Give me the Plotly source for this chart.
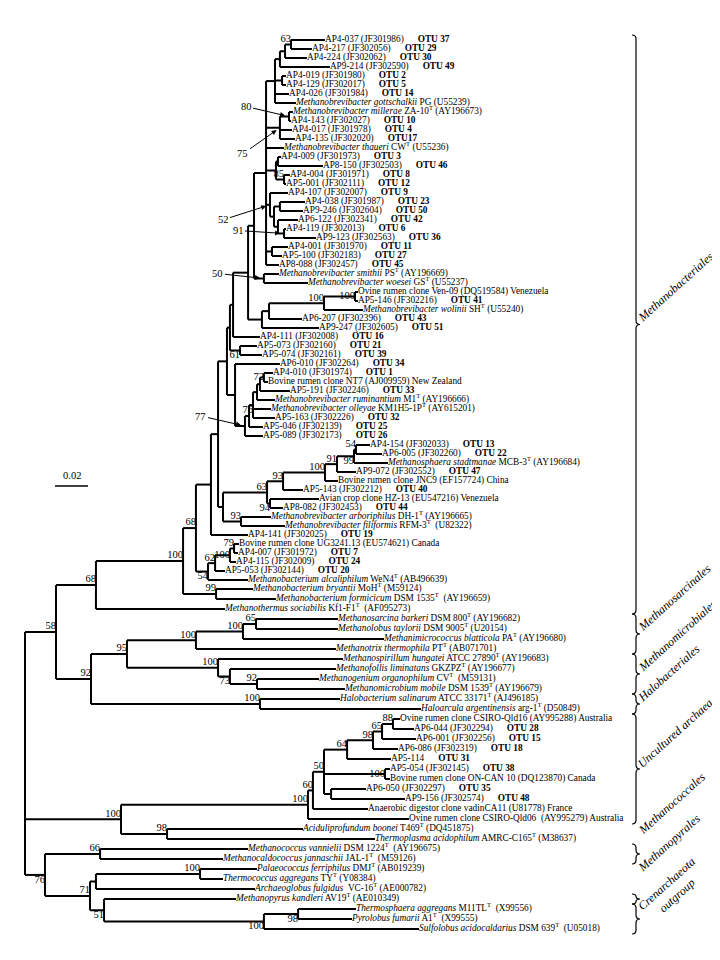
import plotly.graph_objects as go

# ---------------------------------------------------------------- data
LEAF_NAMES = [
    "AP4-037 (JF301986)", "AP4-217 (JF302056)", "AP4-224 (JF302062)", "AP9-214 (JF302590)",
    "AP4-019 (JF301980)", "AP4-129 (JF302017)", "AP4-026 (JF301984)",
    "<i>Methanobrevibacter gottschalkii</i> PG (U55239)",
    "<i>Methanobrevibacter millerae</i> ZA-10<sup>T</sup> (AY196673)",
    "AP4-143 (JF302027)", "AP4-017 (JF301978)", "AP4-135 (JF302020)",
    "<i>Methanobrevibacter thaueri</i> CW<sup>T</sup> (U55236)",
    "AP4-009 (JF301973)", "AP8-150 (JF302503)", "AP4-004 (JF301971)", "AP5-001 (JF302111)",
    "AP4-107 (JF302007)", "AP4-038 (JF301987)", "AP9-246 (JF302604)", "AP6-122 (JF302341)",
    "AP4-119 (JF302013)", "AP9-123 (JF302563)", "AP4-001 (JF301970)", "AP5-100 (JF302183)",
    "AP8-088 (JF302457)",
    "<i>Methanobrevibacter smithii</i> PS<sup>T</sup> (AY196669)",
    "<i>Methanobrevibacter woesei</i> GS<sup>T</sup> (U55237)",
    "Ovine rumen clone Ven-09 (DQ519584) Venezuela",
    "AP5-146 (JF302216)",
    "<i>Methanobrevibacter wolinii</i> SH<sup>T</sup> (U55240)",
    "AP6-207 (JF302396)", "AP9-247 (JF302605)", "AP4-111 (JF302008)", "AP5-073 (JF302160)",
    "AP5-074 (JF302161)", "AP6-010 (JF302264)", "AP4-010 (JF301974)",
    "Bovine rumen clone NT7 (AJ009959) New Zealand",
    "AP5-191 (JF302246)",
    "<i>Methanobrevibacter ruminantium</i> M1<sup>T</sup> (AY196666)",
    "<i>Methanobrevibacter olleyae</i> KM1H5-1P<sup>T</sup> (AY615201)",
    "AP5-163 (JF302226)", "AP5-046 (JF302139)", "AP5-089 (JF302173)", "AP4-154 (JF302033)",
    "AP6-005 (JF302260)",
    "<i>Methanosphaera stadtmanae</i> MCB-3<sup>T</sup> (AY196684)",
    "AP9-072 (JF302552)",
    "Bovine rumen clone JNC9 (EF157724) China",
    "AP5-143 (JF302212)",
    "Avian crop clone HZ-13 (EU547216) Venezuela",
    "AP8-082 (JF302453)",
    "<i>Methanobrevibacter arboriphilus</i> DH-1<sup>T</sup> (AY196665)",
    "<i>Methanobrevibacter filiformis</i> RFM-3<sup>T</sup>  (U82322)",
    "AP4-141 (JF302025)",
    "Bovine rumen clone UG3241.13 (EU574621) Canada",
    "AP4-007 (JF301972)", "AP4-115 (JF302009)", "AP5-053 (JF302144)",
    "<i>Methanobacterium alcaliphilum</i> WeN4<sup>T</sup> (AB496639)",
    "<i>Methanobacterium bryantii</i> MoH<sup>T</sup> (M59124)",
    "<i>Methanobacterium formicicum</i> DSM 1535<sup>T</sup>  (AY196659)",
    "<i>Methanothermus sociabilis</i> Kf1-F1<sup>T</sup>  (AF095273)",
    "<i>Methanosarcina barkeri</i> DSM 800<sup>T</sup> (AY196682)",
    "<i>Methanolobus taylorii</i> DSM 9005<sup>T</sup> (U20154)",
    "<i>Methanimicrococcus blatticola</i> PA<sup>T</sup> (AY196680)",
    "<i>Methanotrix thermophila</i> PT<sup>T</sup> (AB071701)",
    "<i>Methanospirillum hungatei</i> ATCC 27890<sup>T</sup> (AY196683)",
    "<i>Methanofollis liminatans</i> GKZPZ<sup>T</sup> (AY196677)",
    "<i>Methanogenium organophilum</i> CV<sup>T</sup>  (M59131)",
    "<i>Methanomicrobium mobile</i> DSM 1539<sup>T</sup> (AY196679)",
    "<i>Halobacterium salinarum</i> ATCC 33171<sup>T</sup> (AJ496185)",
    "<i>Haloarcula argentinensis</i> arg-1<sup>T</sup> (D50849)",
    "Ovine rumen clone CSIRO-Qld16 (AY995288) Australia",
    "AP6-044 (JF302294)", "AP6-001 (JF302256)", "AP6-086 (JF302319)", "AP5-114",
    "AP5-054 (JF302145)",
    "Bovine rumen clone ON-CAN 10 (DQ123870) Canada",
    "AP6-050 (JF302297)", "AP9-156 (JF302574)",
    "Anaerobic digestor clone vadinCA11 (U81778) France",
    "Ovine rumen clone CSIRO-Qld06  (AY995279) Australia",
    "<i>Aciduliprofundum boonei</i> T469<sup>T</sup> (DQ451875)",
    "<i>Thermoplasma acidophilum</i> AMRC-C165<sup>T</sup> (M38637)",
    "<i>Methanococcus vannielii</i> DSM 1224<sup>T</sup>  (AY196675)",
    "<i>Methanocaldococcus jannaschii</i> JAL-1<sup>T</sup>  (M59126)",
    "<i>Palaeococcus ferriphilus</i> DMJ<sup>T</sup> (AB019239)",
    "<i>Thermococcus aggregans</i> TY<sup>T</sup> (Y08384)",
    "<i>Archaeoglobus fulgidus</i>  VC-16<sup>T</sup> (AE000782)",
    "<i>Methanopyrus kandleri</i> AV19<sup>T</sup> (AE010349)",
    "<i>Thermosphaera aggregans</i> M11TL<sup>T</sup>  (X99556)",
    "<i>Pyrolobus fumarii</i> A1<sup>T</sup>  (X99555)",
    "<i>Sulfolobus acidocaldarius</i> DSM 639<sup>T</sup>  (U05018)",
]

LEAF_OTU = [
    "OTU 37", "OTU 29", "OTU 30", "OTU 49", "OTU 2", "OTU 5", "OTU 14", "", "",
    "OTU 10", "OTU 4", "OTU17", "", "OTU 3", "OTU 46", "OTU 8", "OTU 12", "OTU 9",
    "OTU 23", "OTU 50", "OTU 42", "OTU 6", "OTU 36", "OTU 11", "OTU 27", "OTU 45",
    "", "", "", "OTU 41", "", "OTU 43", "OTU 51", "OTU 16", "OTU 21", "OTU 39",
    "OTU 34", "OTU 1", "", "OTU 33", "", "", "OTU 32", "OTU 25", "OTU 26", "OTU 13",
    "OTU 22", "", "OTU 47", "", "OTU 40", "", "OTU 44", "", "", "OTU 19", "",
    "OTU 7", "OTU 24", "OTU 20", "", "", "", "", "", "", "", "", "", "", "", "",
    "", "", "", "OTU 28", "OTU 15", "OTU 18", "OTU 31", "OTU 38", "", "OTU 35",
    "OTU 48", "", "", "", "", "", "", "", "", "", "", "", "", "",
]

LEAF_PARENT = [
    "N63", "N63", "nB", "nC", "nD", "nD", "nE", "nE", "n80", "n80", "n75", "n75",
    "P", "nF", "nF", "N85", "N85", "N52", "nH", "nH", "N91", "nI", "nI", "nK", "nK",
    "P", "N50", "N50", "nVen", "nVen", "N100w", "W1", "W2", "Mt1", "N61", "N61",
    "Rc", "N72", "N72", "r1", "r2", "N76r", "N76r", "r4", "N77", "N54b", "N54b",
    "N99s", "N91s", "N100s", "N93a", "N94", "N94", "N93b", "N93b", "Mx", "N79",
    "N79", "N100m", "N62", "N54", "N99", "N99", "N68a", "n65m", "n65m", "nMsar",
    "nMsar2", "nMm100", "n73", "n92m", "n92m", "nHalo", "nHalo", "n88", "n88",
    "n65u", "n98u", "n64", "nA", "nA", "nB2", "nB2", "n60", "nU100", "n98t",
    "n98t", "n66", "n66", "n100p", "n100p", "nArc", "n51", "n98c", "n98c", "nCren",
]

# distance from the root, in 10^-3 substitutions per site
LEAF_DEPTH = [
    181.8, 173.9, 170.9, 184.8, 158.2, 158.2, 160.0, 164.2, 162.4, 161.2, 161.8,
    163.6, 157.0, 155.2, 180.6, 160.6, 158.2, 159.4, 169.7, 168.5, 165.5, 158.2,
    176.4, 159.4, 155.8, 153.9, 153.9, 171.5, 201.8, 201.8, 204.8, 167.9, 178.2,
    142.4, 140.6, 143.6, 154.5, 150.3, 147.3, 160.6, 151.5, 149.1, 151.5, 144.2,
    144.2, 209.1, 216.4, 220.0, 200.6, 189.7, 168.5, 178.2, 156.4, 149.1, 157.6,
    135.2, 129.7, 129.1, 127.9, 121.2, 135.2, 138.2, 152.1, 121.2, 189.7, 189.7,
    217.6, 188.5, 192.7, 188.5, 178.2, 193.9, 190.9, 240.0, 227.3, 235.8, 237.0,
    226.1, 221.8, 221.2, 221.2, 206.7, 230.3, 207.9, 232.7, 168.5, 212.1, 135.2,
    120.0, 140.6, 120.0, 139.4, 127.9, 200.6, 198.2, 238.8,
]

NODE_ID = [
    "ROOT", "N58", "N68a", "N100mb", "N68b", "Mx", "Mt4", "Mt3", "Mt2", "Mt1",
    "MsW", "SmC", "P", "nE", "nC", "nB", "N63", "nD", "n75", "n80", "nG", "nF",
    "N85", "N52", "nJ", "nH", "N91", "nI", "nK", "N50", "W2", "W1", "N100w",
    "nVen", "N61", "Rc", "N77", "r4", "N76r", "r2", "r1", "N72", "Ms2", "N63b",
    "N93a", "N100s", "N91s", "N99s", "N54b", "N94", "N93b", "N54", "N62", "N100m",
    "N79", "N99", "n92", "n95", "nMsar2", "nMsar", "n65m", "nMm100", "n73", "n92m",
    "nHalo", "N100T", "nU100", "n60", "n50u", "n64", "n98u", "n65u", "n88", "nA",
    "nB2", "n98t", "N76", "n66", "n71", "nArc", "n100p", "n51", "nCren", "n98c",
]
NODE_PARENT = [
    None, "ROOT", "N58", "N68a", "N100mb", "N68b", "Mx", "Mt4", "Mt3", "Mt2",
    "Mt1", "MsW", "SmC", "P", "nE", "nC", "nB", "nE", "P", "n75", "P", "nG",
    "nG", "P", "N52", "nJ", "nJ", "N91", "P", "SmC", "MsW", "W2", "W1",
    "N100w", "Mt2", "Mt3", "Rc", "N77", "r4", "N76r", "r2", "r1", "Mt4", "Ms2",
    "N63b", "N93a", "N100s", "N91s", "N99s", "N63b", "Ms2", "N68b", "N54", "N62",
    "N100m", "N100mb", "N58", "n92", "n95", "nMsar2", "nMsar", "n95", "nMm100", "n73",
    "n92", "ROOT", "N100T", "nU100", "n60", "n50u", "n64", "n98u", "n65u", "n50u",
    "n50u", "N100T", "ROOT", "N76", "N76", "n71", "nArc", "n71", "n51", "nCren",
]
NODE_DEPTH = [
    0.0, 18.8, 43.0, 95.8, 103.6, 112.7, 117.0, 122.4, 124.2, 126.1,
    135.2, 138.8, 146.1, 151.5, 154.5, 157.6, 161.2, 155.8, 154.5, 160.0, 152.1, 153.3,
    157.0, 148.5, 150.9, 154.5, 153.3, 157.0, 149.7, 144.8, 143.6, 147.9, 181.2,
    200.0, 130.3, 127.3, 133.3, 135.8, 138.2, 140.6, 142.4, 144.8, 120.0, 146.7,
    156.4, 181.8, 189.1, 199.4, 200.6, 148.5, 130.9, 110.9, 115.2, 124.2,
    126.7, 115.8, 40.0, 61.8, 103.6, 132.1, 140.0, 117.0, 124.2, 140.6,
    142.4, 58.2, 171.5, 174.5, 181.2, 195.2, 210.9, 216.4, 223.0, 218.2,
    185.5, 86.1, 12.1, 45.5, 39.4, 43.0, 106.1, 47.9, 144.8, 165.5,
]
NODE_SUPPORT = [
    "", "58", "68", "100", "68", "", "", "", "", "",
    "", "", "", "", "", "", "63", "", "75", "80", "", "",
    "85", "52", "", "", "", "91", "", "50", "", "", "100",
    "100", "61", "", "77", "", "76", "", "", "72", "", "63",
    "93", "100", "91", "99", "54", "94", "93", "54", "62", "100",
    "79", "99", "92", "95", "100", "100", "65", "100", "73", "92",
    "100", "100", "100", "60", "50", "64", "98", "65", "88", "100",
    "", "98", "76", "66", "71", "", "100", "51", "100", "98",
]

ORDER_NAMES = ["Methanobacteriales", "Methanosarcinales", "Methanomicrobiales",
               "Halobacteriales", "Uncultured archaea", "Methanococcales",
               "Methanopyrales", "Crenarchaeota<br>outgroup"]
ORDER_FIRST = [0, 64, 68, 72, 74, 87, 92, 93]
ORDER_LAST = [63, 67, 71, 73, 84, 88, 92, 95]

SCALE_LENGTH = 20.0   # = 0.02 substitutions per site
SCALE_LABEL = "0.02"

# ---------------------------------------------------------------- layout helpers
W, H = 720, 960
ROOT_PX = 17.0
PX_PER_UNIT = 1.65
FONT = "Liberation Serif, Times New Roman, serif"
# vertical shift (px) of each order label's start relative to its brace tip
ORDER_LABEL_DY = [3, 3, 3, 3, 4, -14, -22, 9]


def px_to_x(px):
    return (px - ROOT_PX) / PX_PER_UNIT


def leaf_y(i):
    if i <= 61:
        return 32 + 9.0 * i
    return 32 + 9.0 * 61 + 10.0 * (i - 61)


children = {n: [] for n in NODE_ID}
depth = dict(zip(NODE_ID, NODE_DEPTH))
ypos = {}
parent_of = {}
for i, (p, d) in enumerate(zip(LEAF_PARENT, LEAF_DEPTH)):
    k = ("L", i)
    children[p].append(k)
    ypos[k] = leaf_y(i)
    depth[k] = d
    parent_of[k] = p
for n, p in zip(NODE_ID, NODE_PARENT):
    if p is not None:
        children[p].append(n)
        parent_of[n] = p


def node_y(n):
    if n in ypos:
        return ypos[n]
    ys = [node_y(c) for c in children[n]]
    ypos[n] = (min(ys) + max(ys)) / 2
    return ypos[n]


for n in NODE_ID:
    node_y(n)

xs, ys = [], []
for k, p in parent_of.items():
    xs += [depth[p], depth[k], None]
    ys += [ypos[k], ypos[k], None]
for n in NODE_ID:
    cy = [ypos[c] for c in children[n]]
    xs += [depth[n], depth[n], None]
    ys += [min(cy), max(cy), None]

fig = go.Figure()
fig.add_trace(go.Scatter(x=xs, y=ys, mode="lines",
                         line=dict(color="black", width=2), hoverinfo="skip"))

NB = "\u00a0"


def fmt(name, otu):
    s = name.replace("  ", NB + NB)
    if otu:
        s += NB * 6 + "<b>" + otu + "</b>"
    return s


fig.add_trace(go.Scatter(
    x=LEAF_DEPTH, y=[leaf_y(i) for i in range(len(LEAF_NAMES))],
    mode="text", text=[fmt(a, b) for a, b in zip(LEAF_NAMES, LEAF_OTU)],
    textposition="middle right",
    textfont=dict(family=FONT, size=9.3, color="black"), hoverinfo="skip"))

# bootstrap values
ARROWS = {"n80": (-43, -10), "n75": (-37, 26), "N52": (-47, 15),
          "nI": (-46, -3), "N50": (-46, -5), "N77": (-44, -10)}
BELOW = {"N76", "n51", "nCren", "n98c", "n73", "N61", "N76r", "N99s", "N54", "N94"}
MIDDLE = {"nVen", "N72", "N100m", "nA"}
groups = {"top left": ([], [], []), "bottom left": ([], [], []), "middle left": ([], [], [])}
for n, s in zip(NODE_ID, NODE_SUPPORT):
    if not s or n in ARROWS:
        continue
    pos = "bottom left" if n in BELOW else ("middle left" if n in MIDDLE else "top left")
    g = groups[pos]
    g[0].append(depth[n])
    g[1].append(ypos[n])
    g[2].append(s)
for pos, (gx, gy, gt) in groups.items():
    fig.add_trace(go.Scatter(x=gx, y=gy, text=gt, mode="text", textposition=pos,
                             textfont=dict(family=FONT, size=10.5, color="black"),
                             hoverinfo="skip"))

annotations = []
for n, (ax, ay) in ARROWS.items():
    annotations.append(dict(
        x=depth[n], y=ypos[n], xref="x", yref="y", ax=ax, ay=ay,
        text=NODE_SUPPORT[NODE_ID.index(n)], showarrow=True, arrowhead=2,
        arrowsize=1, arrowwidth=1, arrowcolor="black", standoff=4,
        font=dict(family=FONT, size=10.5, color="black")))

# scale bar
sb_x0 = px_to_x(47)
sb_y = 478
fig.add_trace(go.Scatter(x=[sb_x0, sb_x0 + SCALE_LENGTH], y=[sb_y, sb_y], mode="lines",
                         line=dict(color="black", width=1.5), hoverinfo="skip"))
annotations.append(dict(x=sb_x0 + SCALE_LENGTH / 2, y=sb_y - 3, xref="x", yref="y",
                        text=SCALE_LABEL, showarrow=False, yanchor="bottom",
                        font=dict(family=FONT, size=10.5, color="black")))

# group braces
shapes = []
bx = px_to_x(628)
d = 4 / PX_PER_UNIT
for name, a, b, dy in zip(ORDER_NAMES, ORDER_FIRST, ORDER_LAST, ORDER_LABEL_DY):
    y0 = leaf_y(a) - 5
    y1 = leaf_y(b) + 5
    yc = (y0 + y1) / 2
    r = min(4, (y1 - y0) / 4)
    path = (f"M {bx - d},{y0} Q {bx},{y0} {bx},{y0 + r} L {bx},{yc - r} "
            f"Q {bx},{yc} {bx + d},{yc} Q {bx},{yc} {bx},{yc + r} "
            f"L {bx},{y1 - r} Q {bx},{y1} {bx - d},{y1}")
    shapes.append(dict(type="path", path=path, xref="x", yref="y",
                       line=dict(color="black", width=1.2)))
    annotations.append(dict(x=px_to_x(624), y=yc + dy, xref="x", yref="y",
                            text="<i>" + name.replace("<br>", "</i><br><i>") + "</i>",
                            showarrow=False, textangle=-42,
                            xanchor="left", yanchor="bottom", align="center",
                            font=dict(family=FONT, size=12, color="black")))

fig.update_layout(
    width=W, height=H, margin=dict(l=0, r=0, t=0, b=0),
    paper_bgcolor="white", plot_bgcolor="white", showlegend=False,
    xaxis=dict(range=[px_to_x(0), px_to_x(W)], visible=False, fixedrange=True),
    yaxis=dict(range=[H, 0], visible=False, fixedrange=True),
    annotations=annotations, shapes=shapes,
)
fig.write_html("out.html")
